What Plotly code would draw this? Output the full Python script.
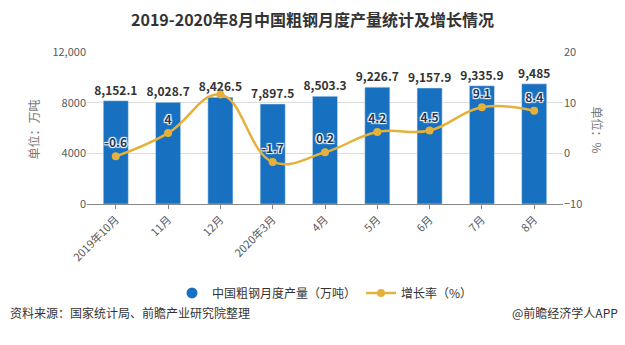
import plotly.graph_objects as go

months = ["2019年10月", "11月", "12月", "2020年3月", "4月", "5月", "6月", "7月", "8月"]
output = [8152.1, 8028.7, 8426.5, 7897.5, 8503.3, 9226.7, 9157.9, 9335.9, 9485]
growth = [-0.6, 4, 11.6, -1.7, 0.2, 4.2, 4.5, 9.1, 8.4]
growth_labels = ["-0.6", "4", "", "-1.7", "0.2", "4.2", "4.5", "9.1", "8.4"]
left_ticks = [0, 4000, 8000, 12000]
left_ticktext = ["0", "4000", "8000", "12,000"]
right_ticks = [-10, 0, 10, 20]

BAR = "#1770c0"
LINE = "#e5b13a"
FONT = "Noto Sans CJK SC"

fig = go.Figure()
fig.add_trace(go.Bar(
    x=months, y=output, marker_color=BAR, showlegend=False,
    text=[f"{v:,.1f}" if v != int(v) else f"{int(v):,}" for v in output],
    textposition="outside", cliponaxis=False, constraintext="none", textangle=0,
    textfont=dict(family=FONT, size=12, color="#333333", weight="bold"),
    yaxis="y"))
fig.add_trace(go.Scatter(
    x=[None], y=[None], mode="markers", name="中国粗钢月度产量（万吨）",
    marker=dict(symbol="circle", size=11, color=BAR)))
fig.add_trace(go.Scatter(
    x=months, y=growth, mode="lines+markers+text", name="增长率（%）",
    line=dict(color=LINE, width=2.5, shape="spline", smoothing=1.2),
    marker=dict(size=8, color=LINE),
    text=growth_labels, textposition="top center", cliponaxis=False,
    textfont=dict(family=FONT, size=12, color="#1f3a5f", weight="bold",
                  shadow="1px 1px 1px white, -1px -1px 1px white, 1px -1px 1px white, -1px 1px 1px white"),
    yaxis="y2"))

fig.update_layout(
    width=625, height=345,
    margin=dict(l=87, r=62, t=52, b=141),
    paper_bgcolor="white", plot_bgcolor="white",
    font=dict(family=FONT, color="#595959", size=11),
    title=dict(text="<b>2019-2020年8月中国粗钢月度产量统计及增长情况</b>",
               x=0.5, xanchor="center", y=0.94, yanchor="middle",
               font=dict(size=16, color="#333333", family=FONT)),
    bargap=0.52,
    xaxis=dict(tickangle=-45, showgrid=False, showline=True, linecolor="#888888",
               ticks="outside", ticklen=4, tickcolor="#888888",
               tickfont=dict(size=11, color="#595959")),
    yaxis=dict(range=[0, 12000], tickvals=left_ticks, ticktext=left_ticktext,
               showgrid=True, gridcolor="#dcdcdc", zeroline=False,
               tickfont=dict(size=11, color="#595959")),
    yaxis2=dict(range=[-10, 20], tickvals=right_ticks, overlaying="y", side="right",
                showgrid=False, zeroline=False,
                tickfont=dict(size=11, color="#595959")),
    legend=dict(orientation="h", x=0.5, xanchor="center", y=-0.585, yanchor="middle",
                font=dict(size=12, color="#333333"), bgcolor="rgba(0,0,0,0)",
                itemwidth=30),
    annotations=[
        dict(text="单位：万吨", x=22, y=130, showarrow=False,
             textangle=-90, font=dict(size=12, color="#777777")),
        dict(text="单位：%", x=608, y=130, showarrow=False, textangle=90,
             font=dict(size=12, color="#777777")),
        dict(text="资料来源：国家统计局、前瞻产业研究院整理", x=8, y=323, showarrow=False,
             xanchor="left", font=dict(size=12, color="#333333")),
        dict(text="@前瞻经济学人APP", x=620, y=323, showarrow=False,
             xanchor="right", font=dict(size=12, color="#333333")),
    ],
)

# convert pixel-based annotation positions into paper coordinates
W, H = 625, 345
l, r, t, b = 87, 62, 52, 141
pw, ph = W - l - r, H - t - b
anns = []
for a in fig.layout.annotations:
    a = a.to_plotly_json()
    a["xref"] = "paper"; a["yref"] = "paper"
    a["x"] = (a["x"] - l) / pw
    a["y"] = (H - b - a["y"]) / ph
    anns.append(a)
fig.layout.annotations = anns

fig.write_html("out.html")
